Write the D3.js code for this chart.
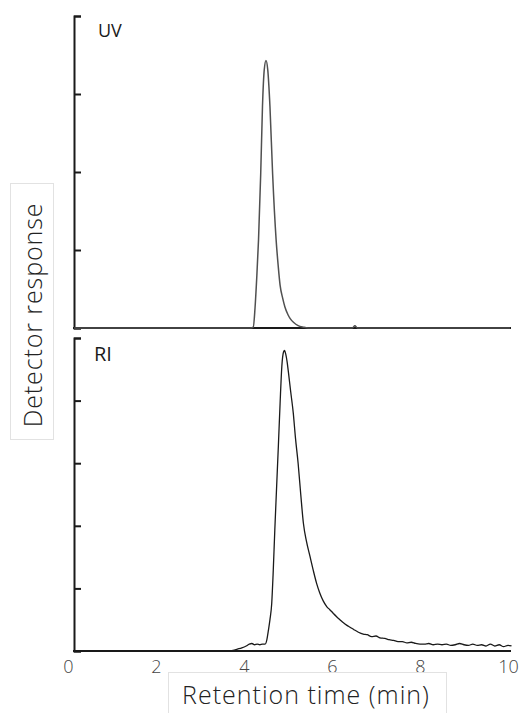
<!DOCTYPE html>
<html>
<head>
<meta charset="utf-8">
<script src="https://cdn.jsdelivr.net/npm/d3@7"></script>
<style>
  html, body { margin: 0; padding: 0; background: #fff; }
  svg { display: block; }
</style>
</head>
<body>
<svg id="chart" width="520" height="713"></svg>
<script>
// Retention time ticks (min)
const xTicks = [0, 2, 4, 6, 8, 10];

// UV detector trace
const uvTime = [0.14, 4.15, 4.21, 4.25, 4.29, 4.33, 4.38, 4.42, 4.46, 4.50, 4.54, 4.59, 4.65, 4.73, 4.78, 4.82, 4.88, 4.93, 5.00, 5.05, 5.13, 5.23, 5.35, 5.46, 6.46, 6.52, 6.58, 10.05];
const uvValue = [0, 0, 0.01, 0.25, 0.65, 1.13, 1.98, 2.84, 3.31, 3.43, 3.31, 2.84, 1.98, 1.13, 0.78, 0.55, 0.38, 0.27, 0.17, 0.12, 0.07, 0.03, 0.01, 0, 0, 0.03, 0, 0];

// RI detector trace
const riTime = [0.14, 3.55, 3.64, 3.75, 3.85, 3.95, 4.05, 4.12, 4.18, 4.24, 4.30, 4.36, 4.42, 4.48, 4.52, 4.55, 4.59, 4.63, 4.66, 4.70, 4.74, 4.78, 4.82, 4.86, 4.90, 4.92, 4.95, 4.98, 5.01, 5.06, 5.12, 5.17, 5.23, 5.29, 5.35, 5.42, 5.50, 5.57, 5.65, 5.72, 5.80, 5.88, 5.95, 6.03, 6.10, 6.18, 6.26, 6.34, 6.41, 6.50, 6.60, 6.71, 6.80, 6.90, 7.00, 7.09, 7.20, 7.30, 7.40, 7.50, 7.60, 7.70, 7.80, 7.90, 8.00, 8.10, 8.20, 8.30, 8.40, 8.50, 8.60, 8.70, 8.80, 8.90, 9.00, 9.10, 9.20, 9.30, 9.40, 9.50, 9.60, 9.70, 9.80, 9.90, 10.00, 10.08];
const riValue = [0, 0, 0.0, 0.01, 0.03, 0.05, 0.08, 0.11, 0.12, 0.10, 0.11, 0.10, 0.11, 0.11, 0.18, 0.31, 0.50, 0.76, 1.20, 1.93, 2.60, 3.26, 3.95, 4.55, 4.78, 4.80, 4.74, 4.62, 4.45, 4.15, 3.80, 3.40, 3.00, 2.50, 2.04, 1.75, 1.51, 1.30, 1.08, 0.93, 0.80, 0.71, 0.66, 0.60, 0.55, 0.50, 0.45, 0.41, 0.38, 0.34, 0.30, 0.27, 0.26, 0.23, 0.24, 0.21, 0.20, 0.18, 0.17, 0.15, 0.15, 0.13, 0.14, 0.12, 0.11, 0.11, 0.12, 0.10, 0.11, 0.10, 0.11, 0.09, 0.10, 0.12, 0.10, 0.09, 0.11, 0.09, 0.10, 0.08, 0.11, 0.08, 0.10, 0.07, 0.09, 0.08];

// Panel y ticks (arbitrary response units)
const uvTicks = [0, 1, 2, 3, 4];
const riTicks = [0, 1, 2, 3, 4, 5];

const svg = d3.select("#chart");
const axisX0 = 74, axisX1 = 511;
const font = "'Open Sans', 'Noto Sans', sans-serif";

const x = d3.scaleLinear().domain([0, 10]).range([68, 508]);
const yUV = d3.scaleLinear().domain([0, 4]).range([328, 16]);
const yRI = d3.scaleLinear().domain([0, 5]).range([651, 338]);

function panel(yScale, ticks, times, values, label, labelPos, labelSize, lineColor, lineWidth) {
  const g = svg.append("g");
  // vertical axis with inward ticks
  const ax = g.append("g")
    .attr("transform", `translate(${axisX0},0)`)
    .call(d3.axisRight(yScale).tickValues(ticks).tickSize(7).tickSizeOuter(7).tickFormat(""));
  ax.selectAll("path, line").attr("stroke", "#1a1a1a").attr("stroke-width", 2);
  // baseline
  g.append("line")
    .attr("x1", axisX0 - 1).attr("x2", axisX1)
    .attr("y1", yScale(0)).attr("y2", yScale(0))
    .attr("stroke", "#1a1a1a").attr("stroke-width", 2);
  // trace
  const pts = times.map((t, i) => [t, values[i]]);
  g.append("path")
    .datum(pts)
    .attr("fill", "none")
    .attr("stroke", lineColor)
    .attr("stroke-width", lineWidth)
    .attr("stroke-linejoin", "round")
    .attr("d", d3.line().x(d => x(d[0])).y(d => yScale(d[1])).curve(d3.curveMonotoneX));
  // detector label
  g.append("text")
    .attr("x", labelPos[0])
    .attr("y", labelPos[1])
    .attr("font-family", font)
    .attr("font-weight", 500)
    .attr("font-size", labelSize)
    .attr("fill", "#1a1a1a")
    .text(label);
  return g;
}

panel(yUV, uvTicks, uvTime, uvValue, "UV", [98, 37], 18, "#505050", 1.5);
panel(yRI, riTicks, riTime, riValue, "RI", [94, 361], 20, "#1a1a1a", 1.3);

// x tick labels
const xa = svg.append("g")
  .attr("transform", `translate(0,${yRI(0)})`)
  .call(d3.axisBottom(x).tickValues(xTicks).tickSize(0).tickPadding(9).tickFormat(d3.format("d")));
xa.select(".domain").remove();
xa.selectAll("text")
  .attr("font-family", font)
  .attr("font-weight", 350)
  .attr("font-size", 18)
  .attr("fill", "#444");

// y title box
svg.append("rect")
  .attr("x", 10.5).attr("y", 183.5).attr("width", 43).attr("height", 256)
  .attr("fill", "#fff").attr("stroke", "#e2e2e2").attr("stroke-width", 1);
svg.append("text")
  .attr("transform", "translate(42,315) rotate(-90)")
  .attr("text-anchor", "middle")
  .attr("font-family", font)
  .attr("font-weight", 350)
  .attr("font-size", 25)
  .attr("letter-spacing", 0.9)
  .attr("fill", "#222")
  .text("Detector response");

// x title box
svg.append("rect")
  .attr("x", 168.5).attr("y", 672.5).attr("width", 278).attr("height", 60)
  .attr("fill", "#fff").attr("stroke", "#e2e2e2").attr("stroke-width", 1);
svg.append("text")
  .attr("x", 306).attr("y", 704)
  .attr("text-anchor", "middle")
  .attr("font-family", font)
  .attr("font-weight", 350)
  .attr("font-size", 25)
  .attr("letter-spacing", 1)
  .attr("fill", "#222")
  .text("Retention time (min)");
</script>
</body>
</html>
